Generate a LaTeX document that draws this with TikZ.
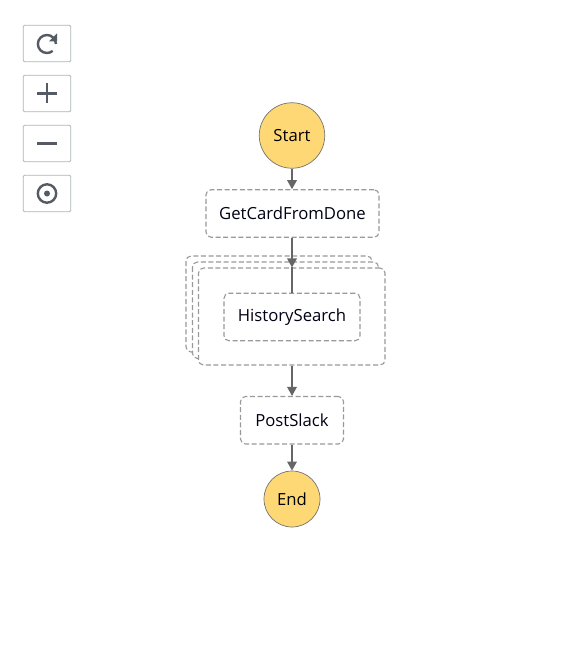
\documentclass[tikz,border=0pt]{standalone}
\usepackage{fontspec}
\setmainfont{Open Sans}
\usetikzlibrary{arrows.meta}
\definecolor{dashc}{HTML}{999999}
\definecolor{linkc}{HTML}{666666}
\definecolor{startc}{HTML}{FFD876}
\definecolor{btnc}{HTML}{AAB7B8}
\definecolor{iconc}{HTML}{545B64}
\tikzset{
  x=1bp,y=-1bp,
  statebox/.style={draw=dashc,line width=1.1bp,dash pattern=on 5bp off 2.6bp,rounded corners=5bp,fill=white,inner sep=0pt,font=\fontsize{16.7bp}{18bp}\selectfont,minimum height=47.5bp,text=black!92!blue},
  stackbox/.style={draw=dashc,line width=1.1bp,dash pattern=on 5bp off 2.6bp,rounded corners=5bp,fill=white},
  terminal/.style={circle,draw=black!55,line width=0.7bp,fill=startc,inner sep=0pt,font=\fontsize{16.7bp}{18bp}\selectfont,text=black},
  link/.style={draw=linkc,line width=1.6bp,-{Triangle[length=9bp,width=9.5bp]}},
  plainlink/.style={draw=linkc,line width=1.6bp},
  toolbtn/.style={draw=btnc,line width=0.8bp,rounded corners=1.2bp,fill=white,minimum width=47.5bp,minimum height=36.5bp,inner sep=0pt},
  icon/.style={draw=iconc,line width=2.4bp}
}
\begin{document}
\begin{tikzpicture}
\useasboundingbox (0,0) rectangle (577,647);
\fill[white] (0,0) rectangle (577,647);
% toolbar
\node[toolbtn] (btnA) at (47,43.5) {};
\node[toolbtn] (btnB) at (47,93.5) {};
\node[toolbtn] (btnC) at (47,143.5) {};
\node[toolbtn] (btnD) at (47,193.5) {};
\draw[icon] (55.9,44) arc[start angle=0,delta angle=-310,x radius=9bp,y radius=-9bp];
\fill[iconc] (57,33.5) -- (57,41.5) -- (49,41.5) -- cycle;
\draw[icon] (37,93.5) -- (57,93.5) (47,83.5) -- (47,103.5);
\draw[icon] (37,143.5) -- (57,143.5);
\draw[icon] (47,193.5) circle[radius=9.2bp];
\fill[iconc] (47,193.5) circle[radius=3bp];
% stack
\draw[stackbox] (186,256) rectangle (372,352);
\draw[stackbox] (192.5,262) rectangle (378.5,358.5);
\node[stackbox,minimum width=186.5bp,minimum height=97bp,inner sep=0pt] (mapfront) at (291.75,316.5) {};
% states
\node[terminal,minimum size=65.5bp] (start) at (292,135.5) {Start};
\node[statebox,minimum width=173bp] (get) at (292.5,213.5) {GetCardFromDone};
\node[statebox,minimum width=136bp] (hist) at (292,317) {HistorySearch};
\node[statebox,minimum width=103bp] (post) at (292,420.25) {PostSlack};
\node[terminal,minimum size=56bp] (end) at (292,499) {End};
% links
\draw[plainlink] (mapfront.north -| hist.north) -- (hist.north);
\draw[link] (start.south) -- (start.south |- get.north);
\draw[link] (get.south -| start.south) -- (start.south |- mapfront.north);
\draw[link] (start.south |- mapfront.south) -- (start.south |- post.north);
\draw[link] (start.south |- post.south) -- (end.north);
\end{tikzpicture}
\end{document}
